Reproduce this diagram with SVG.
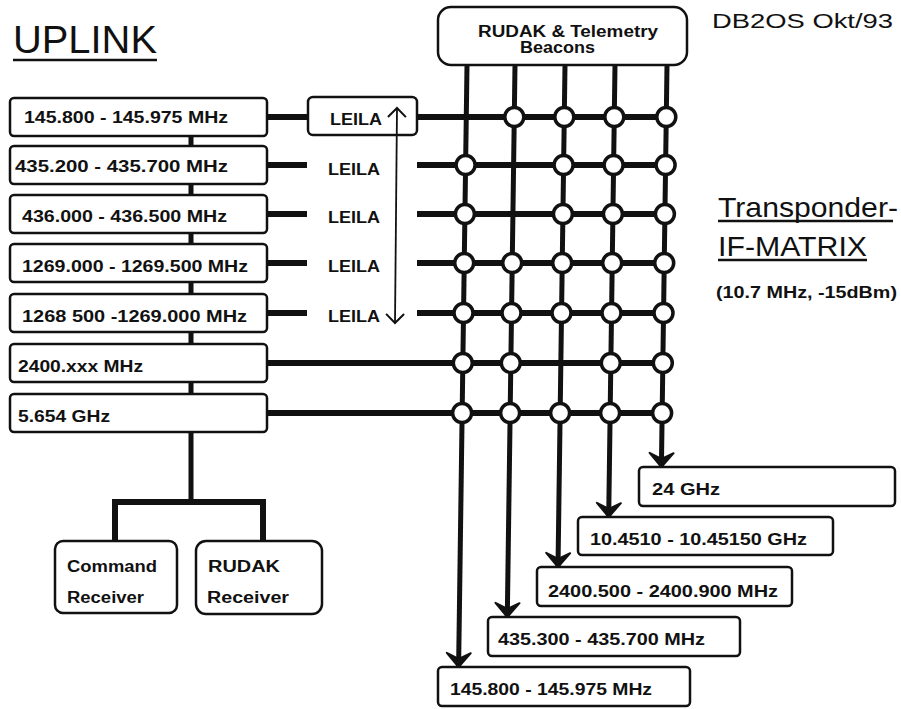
<svg xmlns="http://www.w3.org/2000/svg" width="901" height="709" viewBox="0 0 901 709">
<defs>
<style>
.bx{fill:#fff;stroke:#111;stroke-width:2.5}
.t{font-family:"Liberation Sans",Arial,sans-serif;font-weight:bold;font-size:16px;fill:#111}
.h{font-family:"Liberation Sans",Arial,sans-serif;font-weight:normal;fill:#111}
.thk{stroke:#111;stroke-width:6;fill:none}
.vt{stroke:#111;stroke-width:5;fill:none}
.jn{fill:#fff;stroke:#111;stroke-width:3.5}
.ul{stroke:#111;stroke-width:2.5}
</style>
<marker id="ah" markerUnits="userSpaceOnUse" markerWidth="30" markerHeight="30" refX="0" refY="0" viewBox="-16 -15 18 30" orient="auto">
<path d="M0,0 L-14,-12 L-8,0 L-14,12 Z" fill="#111" stroke="#111" stroke-width="2" stroke-linejoin="round"/>
</marker>
<marker id="oa" markerUnits="userSpaceOnUse" markerWidth="24" markerHeight="24" refX="0" refY="0" viewBox="-12 -12 14 24" orient="auto-start-reverse">
<path d="M-9,-9 L0,0 L-9,9" fill="none" stroke="#111" stroke-width="2"/>
</marker>
</defs>
<rect width="901" height="709" fill="#fff"/>

<g id="titles">
<text class="h" x="13" y="53" font-size="39" textLength="144" lengthAdjust="spacingAndGlyphs">UPLINK</text>
<line class="ul" x1="13" y1="60" x2="157" y2="60" stroke-width="3"/>
<text class="h" x="712" y="28" font-size="20" textLength="181" lengthAdjust="spacingAndGlyphs">DB2OS Okt/93</text>
<text class="h" x="718" y="217" font-size="28" textLength="180" lengthAdjust="spacingAndGlyphs">Transponder-</text>
<line class="ul" x1="718" y1="221" x2="893" y2="221"/>
<text class="h" x="718" y="256" font-size="28" textLength="149" lengthAdjust="spacingAndGlyphs">IF-MATRIX</text>
<line class="ul" x1="718" y1="260" x2="867" y2="260"/>
<text class="t" x="716" y="298" font-size="15" textLength="181" lengthAdjust="spacingAndGlyphs">(10.7 MHz, -15dBm)</text>
</g>

<g id="rudak-beacons">
<rect class="bx" x="438" y="7" width="249" height="58" rx="13"/>
<text class="t" x="478" y="37" textLength="180" lengthAdjust="spacingAndGlyphs">RUDAK &amp; Telemetry</text>
<text class="t" x="520" y="53" font-size="15" textLength="75" lengthAdjust="spacingAndGlyphs">Beacons</text>
</g>

<g id="up1"><rect class="bx" x="10" y="98" width="257" height="38" rx="4"/><text class="t" x="24" y="123" textLength="204" lengthAdjust="spacingAndGlyphs">145.800 - 145.975 MHz</text></g>
<g id="up2"><rect class="bx" x="10" y="146" width="257" height="38" rx="4"/><text class="t" x="15" y="172" textLength="213" lengthAdjust="spacingAndGlyphs">435.200 - 435.700 MHz</text></g>
<g id="up3"><rect class="bx" x="10" y="195" width="257" height="38" rx="4"/><text class="t" x="22" y="222" textLength="205" lengthAdjust="spacingAndGlyphs">436.000 - 436.500 MHz</text></g>
<g id="up4"><rect class="bx" x="10" y="244" width="257" height="38" rx="4"/><text class="t" x="22" y="272" textLength="226" lengthAdjust="spacingAndGlyphs">1269.000 - 1269.500 MHz</text></g>
<g id="up5"><rect class="bx" x="10" y="294" width="257" height="38" rx="4"/><text class="t" x="22" y="322" textLength="225" lengthAdjust="spacingAndGlyphs">1268 500 -1269.000 MHz</text></g>
<g id="up6"><rect class="bx" x="10" y="344" width="257" height="38" rx="4"/><text class="t" x="18" y="372" textLength="125" lengthAdjust="spacingAndGlyphs">2400.xxx MHz</text></g>
<g id="up7"><rect class="bx" x="10" y="394" width="257" height="38" rx="4"/><text class="t" x="18" y="422" textLength="92" lengthAdjust="spacingAndGlyphs">5.654 GHz</text></g>

<g id="leila1"><rect class="bx" x="308" y="97" width="109" height="38" rx="5"/><text class="t" x="330" y="125" font-size="16" textLength="52" lengthAdjust="spacingAndGlyphs">LEILA</text></g>
<g id="leila2"><text class="t" x="328" y="175" font-size="17" textLength="52" lengthAdjust="spacingAndGlyphs">LEILA</text></g>
<g id="leila3"><text class="t" x="328" y="223" font-size="17" textLength="52" lengthAdjust="spacingAndGlyphs">LEILA</text></g>
<g id="leila4"><text class="t" x="328" y="272" font-size="17" textLength="52" lengthAdjust="spacingAndGlyphs">LEILA</text></g>
<g id="leila5"><text class="t" x="328" y="322" font-size="17" textLength="52" lengthAdjust="spacingAndGlyphs">LEILA</text></g>

<g id="command-receiver"><rect class="bx" x="55" y="541" width="122" height="72" rx="8"/>
<text class="t" x="67" y="572" font-size="17" textLength="90" lengthAdjust="spacingAndGlyphs">Command</text>
<text class="t" x="67" y="603" font-size="17" textLength="77" lengthAdjust="spacingAndGlyphs">Receiver</text></g>
<g id="rudak-receiver"><rect class="bx" x="196" y="541" width="126" height="73" rx="10"/>
<text class="t" x="208" y="572" font-size="17" textLength="72" lengthAdjust="spacingAndGlyphs">RUDAK</text>
<text class="t" x="207" y="603" font-size="17" textLength="82" lengthAdjust="spacingAndGlyphs">Receiver</text></g>

<g id="down24"><rect class="bx" x="639" y="467" width="256" height="39" rx="4"/><text class="t" x="652" y="495" textLength="68" lengthAdjust="spacingAndGlyphs">24 GHz</text></g>
<g id="down10"><rect class="bx" x="578" y="517" width="255" height="38" rx="4"/><text class="t" x="590" y="545" textLength="217" lengthAdjust="spacingAndGlyphs">10.4510 - 10.45150 GHz</text></g>
<g id="down2400"><rect class="bx" x="537" y="567" width="255" height="39" rx="4"/><text class="t" x="548" y="597" textLength="230" lengthAdjust="spacingAndGlyphs">2400.500 - 2400.900 MHz</text></g>
<g id="down435"><rect class="bx" x="488" y="617" width="252" height="39" rx="4"/><text class="t" x="498" y="645" textLength="207" lengthAdjust="spacingAndGlyphs">435.300 - 435.700 MHz</text></g>
<g id="down145"><rect class="bx" x="438" y="667" width="252" height="39" rx="4"/><text class="t" x="450" y="695" textLength="202" lengthAdjust="spacingAndGlyphs">145.800 - 145.975 MHz</text></g>

<g id="connectors">
<path class="vt" d="M191,136 V146 M191,184 V195 M191,233 V244 M191,282 V294 M191,332 V344 M191,382 V394 M191,432 V502"/>
<path class="thk" d="M115,541 V502 H263 V541"/>
<path class="thk" d="M267,117 H308 M417,117 H666"/>
<path class="thk" d="M267,165 H307 M417,165 H665.6"/>
<path class="thk" d="M267,214 H307 M417,214 H664.9"/>
<path class="thk" d="M267,263 H307 M417,263 H664.2"/>
<path class="thk" d="M267,313 H307 M417,313 H663.5"/>
<path class="thk" d="M267,363 H662.8"/>
<path class="thk" d="M267,413 H662.1"/>
<line class="vt" x1="467" y1="65" x2="458.6" y2="667" marker-end="url(#ah)"/>
<line class="vt" x1="515" y1="65" x2="507.3" y2="617" marker-end="url(#ah)"/>
<line class="vt" x1="565" y1="65" x2="558" y2="567" marker-end="url(#ah)"/>
<line class="vt" x1="615" y1="65" x2="608.7" y2="517" marker-end="url(#ah)"/>
<line class="vt" x1="667" y1="65" x2="661.4" y2="467" marker-end="url(#ah)"/>
<line x1="397" y1="108" x2="395" y2="323" stroke="#111" stroke-width="1.8" marker-start="url(#oa)" marker-end="url(#oa)"/>
</g>

<g id="junctions">
<circle class="jn" cx="514.3" cy="117" r="9.5"/><circle class="jn" cx="564.3" cy="117" r="9.5"/><circle class="jn" cx="614.3" cy="117" r="9.5"/><circle class="jn" cx="666.3" cy="117" r="9.5"/>
<circle class="jn" cx="465.6" cy="165" r="9.5"/><circle class="jn" cx="563.6" cy="165" r="9.5"/><circle class="jn" cx="613.6" cy="165" r="9.5"/><circle class="jn" cx="665.6" cy="165" r="9.5"/>
<circle class="jn" cx="464.9" cy="214" r="9.5"/><circle class="jn" cx="562.9" cy="214" r="9.5"/><circle class="jn" cx="612.9" cy="214" r="9.5"/><circle class="jn" cx="664.9" cy="214" r="9.5"/>
<circle class="jn" cx="464.2" cy="263" r="9.5"/><circle class="jn" cx="512.2" cy="263" r="9.5"/><circle class="jn" cx="562.2" cy="263" r="9.5"/><circle class="jn" cx="612.2" cy="263" r="9.5"/><circle class="jn" cx="664.2" cy="263" r="9.5"/>
<circle class="jn" cx="463.5" cy="313" r="9.5"/><circle class="jn" cx="511.5" cy="313" r="9.5"/><circle class="jn" cx="561.5" cy="313" r="9.5"/><circle class="jn" cx="611.5" cy="313" r="9.5"/><circle class="jn" cx="663.5" cy="313" r="9.5"/>
<circle class="jn" cx="462.8" cy="363" r="9.5"/><circle class="jn" cx="510.8" cy="363" r="9.5"/><circle class="jn" cx="610.8" cy="363" r="9.5"/><circle class="jn" cx="662.8" cy="363" r="9.5"/>
<circle class="jn" cx="462.1" cy="413" r="9.5"/><circle class="jn" cx="510.1" cy="413" r="9.5"/><circle class="jn" cx="560.1" cy="413" r="9.5"/><circle class="jn" cx="610.1" cy="413" r="9.5"/><circle class="jn" cx="662.1" cy="413" r="9.5"/>
</g>
</svg>
